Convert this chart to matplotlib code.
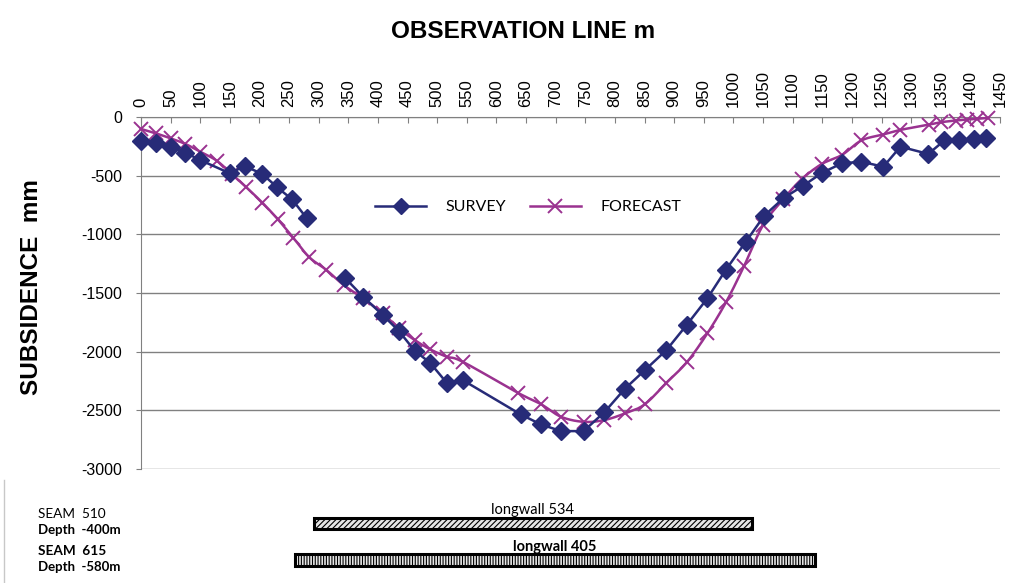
import numpy as np
import matplotlib
matplotlib.use("Agg")
import matplotlib.pyplot as plt
from matplotlib.patches import Rectangle
from matplotlib.lines import Line2D
import matplotlib.transforms as mtransforms

# ---------------- data ----------------
survey_x = [0, 25, 50, 75, 100, 150, 175, 205, 230, 255, 280, 345, 375, 408, 435,
            462, 488, 516, 543, 641, 675, 709, 747, 782, 817, 850, 887, 921, 956,
            987, 1021, 1052, 1085, 1117, 1150, 1183, 1216, 1253, 1282, 1329, 1356,
            1381, 1406, 1427]
survey_y = [-202, -224, -258, -304, -367, -480, -418, -486, -600, -702, -864, -1375,
            -1532, -1688, -1822, -1992, -2095, -2265, -2242, -2535, -2620, -2677,
            -2677, -2517, -2315, -2160, -1986, -1773, -1546, -1304, -1063, -841,
            -690, -588, -475, -395, -381, -424, -253, -315, -200, -195, -190, -180]
survey_gap_after = 280   # survey line is interrupted between 280 m and the next station

forecast_x = [0, 25, 50, 75, 100, 128, 153, 178, 205, 231, 257, 284, 312, 342, 375,
              408, 435, 462, 488, 516, 543, 636, 675, 709, 747, 782, 817, 850, 887,
              922, 956, 988, 1018, 1050, 1084, 1115, 1149, 1183, 1216, 1252, 1282,
              1330, 1350, 1375, 1395, 1412, 1430]
forecast_y = [-102, -139, -182, -230, -296, -373, -486, -600, -731, -872, -1029,
              -1195, -1300, -1432, -1546, -1674, -1801, -1901, -1980, -2043, -2086,
              -2350, -2447, -2555, -2598, -2583, -2526, -2450, -2265, -2086, -1844,
              -1574, -1270, -921, -702, -531, -401, -324, -200, -150, -110, -65,
              -45, -30, -22, -15, -8]

x_ticks = list(range(0, 1451, 50))
y_ticks = [0, -500, -1000, -1500, -2000, -2500, -3000]

longwall_names = ["longwall 534", "longwall 405"]
longwall_start = [292, 260]
longwall_end = [1031, 1138]
seam_labels = ["SEAM  510", "SEAM  615"]
depth_labels = ["Depth  -400m", "Depth  -580m"]

SURVEY_C = "#272B78"
FORECAST_C = "#9A3290"
GRID_C = "#808080"
SANS = ["Liberation Sans", "DejaVu Sans"]
CAL = ["Lato", "DejaVu Sans"]


def catmull_rom(xs, ys, sx, sy, n=12):
    px = np.asarray(xs, float) * sx
    py = np.asarray(ys, float) * sy
    P = np.column_stack([px, py])
    P = np.vstack([P[0] - (P[1] - P[0]), P, P[-1] + (P[-1] - P[-2])])
    out = []
    for i in range(1, len(P) - 2):
        p0, p1, p2, p3 = P[i - 1], P[i], P[i + 1], P[i + 2]
        t = np.linspace(0, 1, n, endpoint=False)[:, None]
        seg = 0.5 * ((2 * p1) + (-p0 + p2) * t + (2 * p0 - 5 * p1 + 4 * p2 - p3) * t ** 2
                     + (-p0 + 3 * p1 - 3 * p2 + p3) * t ** 3)
        out.append(seg)
    out.append(P[-2][None, :])
    out = np.vstack(out)
    return out[:, 0] / sx, out[:, 1] / sy


fig = plt.figure(figsize=(10.12, 5.83), dpi=100)
ax = fig.add_axes([141 / 1012, 1 - 469 / 583, (1000 - 141) / 1012, (469 - 117) / 583])

ax.set_xlim(0, 1450)
ax.set_ylim(-3000, 0)

for v in y_ticks:
    ax.axhline(v, color=GRID_C, lw=1.0, zorder=1)

# forecast: smoothed line + cross markers
fx, fy = catmull_rom(forecast_x, forecast_y, 859 / 1450, 352 / 3000)
ax.plot(fx, fy, color=FORECAST_C, lw=1.8, zorder=3, clip_on=False)
ax.plot(forecast_x, forecast_y, ls="none", marker="x", ms=10, mew=1.4,
        color=FORECAST_C, zorder=4, clip_on=False)

# survey: straight segments + diamonds, broken after the gap station
sx = np.array(survey_x, float)
sy = np.array(survey_y, float)
first = sx <= survey_gap_after
for mask in (first, ~first):
    ax.plot(sx[mask], sy[mask], color=SURVEY_C, lw=1.8, marker="D", ms=9,
            mec=SURVEY_C, mfc=SURVEY_C, zorder=5, clip_on=False)

for s in ["right", "bottom"]:
    ax.spines[s].set_visible(False)
ax.spines["left"].set_color(GRID_C)
ax.spines["top"].set_color(GRID_C)
ax.xaxis.tick_top()
ax.set_xticks(x_ticks)
ax.set_xticklabels([str(t) for t in x_ticks], rotation=90, fontsize=12, family=SANS)
ax.tick_params(axis="x", direction="in", length=4, color=GRID_C, pad=7)
ax.set_yticks(y_ticks)
ax.set_yticklabels([str(t) for t in y_ticks], fontsize=11.5, family=SANS)
ax.tick_params(axis="y", direction="out", length=3.5, color=GRID_C, pad=10)

fig.text(523 / 1012, 1 - 32 / 583, "OBSERVATION LINE m", ha="center", va="center",
         fontsize=17.5, fontweight="bold", family=SANS)
fig.text(32 / 1012, 1 - 287 / 583, "SUBSIDENCE  mm", ha="center", va="center",
         rotation=90, fontsize=17.5, fontweight="bold", family=SANS)

h1 = Line2D([], [], color=SURVEY_C, lw=1.8, marker="D", ms=8)
h2 = Line2D([], [], color=FORECAST_C, lw=1.8, marker="x", ms=10, mew=1.4)
ax.legend([h1, h2], ["SURVEY", "FORECAST"],
          loc="center", bbox_to_anchor=((528 - 141) / 859, (469 - 207) / 352),
          ncol=2, frameon=False, handlelength=3.2,
          columnspacing=1.5, handletextpad=1.2,
          prop={"family": CAL, "size": 11.5})

# longwall bars (x in data coords, y in figure coords)
trans = mtransforms.blended_transform_factory(ax.transData, fig.transFigure)
bar_y = [1 - 529 / 583, 1 - 566 / 583]
bar_h = [11 / 583, 12 / 583]
label_y = [1 - 510 / 583, 1 - 547 / 583]
hatches = ["//////", "||||||"]
weights = ["normal", "bold"]
plt.rcParams["hatch.color"] = "#8a8a8a"
plt.rcParams["hatch.linewidth"] = 0.8
for i in range(2):
    r = Rectangle((longwall_start[i], bar_y[i]), longwall_end[i] - longwall_start[i], bar_h[i],
                  transform=trans, facecolor="#e6e6e6", edgecolor="black", lw=2.2,
                  hatch=hatches[i], clip_on=False)
    fig.add_artist(r)
    fig.text((longwall_start[i] + longwall_end[i]) / 2, label_y[i], longwall_names[i],
             transform=trans, ha="center", va="center",
             fontsize=10.5, fontweight=weights[i], family=CAL)

seam_y = [514, 551]
depth_y = [530, 567]
seam_w = ["normal", "bold"]
for i in range(2):
    fig.text(38 / 1012, 1 - seam_y[i] / 583, seam_labels[i], ha="left", va="center",
             fontsize=9.8, fontweight=seam_w[i], family=CAL)
    fig.text(38 / 1012, 1 - depth_y[i] / 583, depth_labels[i], ha="left", va="center",
             fontsize=9.5, fontweight="bold", family=CAL)

# thin chart frame line on the left edge
fig.add_artist(Line2D([4 / 1012, 4 / 1012], [0, 1 - 480 / 583], transform=fig.transFigure,
                      color="#c8c8c8", lw=1))

fig.savefig("out.png", dpi=100)
